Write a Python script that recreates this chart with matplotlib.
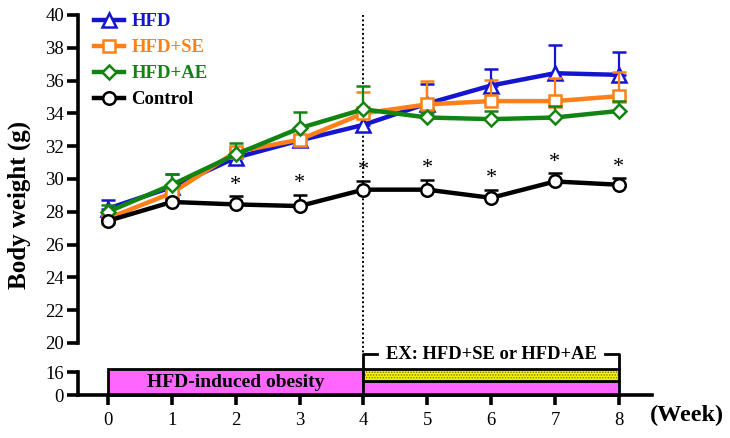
import matplotlib
matplotlib.use("Agg")
import matplotlib.pyplot as plt
from matplotlib.patches import Rectangle
from matplotlib.lines import Line2D
import numpy as np

plt.rcParams['font.family'] = ['Liberation Serif', 'DejaVu Serif']
plt.rcParams['hatch.linewidth'] = 0.6

weeks = [0, 1, 2, 3, 4, 5, 6, 7, 8]
hfd = [28.2, 29.5, 31.3, 32.35, 33.3, 34.6, 35.7, 36.45, 36.35]
hfd_err = [0.5, 0.8, 0.5, 0.3, 0.7, 1.2, 1.0, 1.7, 1.4]
hfd_se = [27.6, 29.15, 31.65, 32.4, 34.0, 34.55, 34.75, 34.75, 35.05]
hfd_se_err = [0.4, 0.4, 0.3, 0.3, 1.3, 1.4, 1.3, 1.4, 1.5]
hfd_ae = [28.0, 29.65, 31.5, 33.1, 34.25, 33.75, 33.65, 33.75, 34.15]
hfd_ae_err = [0.4, 0.65, 0.7, 1.0, 1.4, 0.3, 0.5, 0.7, 0.6]
control = [27.45, 28.6, 28.45, 28.35, 29.35, 29.35, 28.85, 29.85, 29.65]
control_err = [0.2, 0.2, 0.5, 0.7, 0.5, 0.6, 0.5, 0.5, 0.4]
star_weeks = [2, 3, 4, 5, 6, 7, 8]

series = [
    ("HFD", hfd, hfd_err, '#1515d0', '^'),
    ("HFD+SE", hfd_se, hfd_se_err, '#ff8018', 's'),
    ("HFD+AE", hfd_ae, hfd_ae_err, '#128412', 'D'),
    ("Control", control, control_err, '#000000', 'o'),
]

W, H = 730, 438
fig = plt.figure(figsize=(W / 100, H / 100), dpi=100)
xl = (-0.47, 8.52)
left = 78 / W
width = (652 - 78) / W

ax = fig.add_axes([left, (H - 343) / H, width, 328 / H])
axl = fig.add_axes([left, (H - 395) / H, width, 43.1 / H])

spine_w = 2.6
for a in (ax, axl):
    a.set_xlim(*xl)
    for s in ('top', 'right'):
        a.spines[s].set_visible(False)
    a.spines['left'].set_linewidth(spine_w)
    a.spines['bottom'].set_linewidth(spine_w)
    a.tick_params(width=spine_w, length=8, labelsize=13.5, direction='out')
    a.patch.set_alpha(0)

ax.spines['bottom'].set_visible(False)
ax.set_ylim(20, 40)
ax.set_yticks(np.arange(20, 41, 2))
ax.set_xticks([])
ax.tick_params(axis='y', pad=2)

axl.set_ylim(0, 30)
axl.spines['left'].set_bounds(0, 16)
axl.set_yticks([0, 16])
axl.set_xticks(weeks)
axl.tick_params(axis='x', length=7, pad=5)
axl.tick_params(axis='y', pad=2)

handles = []
for i, (name, vals, err, col, mk) in enumerate(series):
    ms = {'^': 9.5, 's': 9, 'D': 7, 'o': 9}[mk]
    ax.errorbar(weeks, vals, yerr=[np.zeros(len(err)), err], color=col,
                lw=3.2, elinewidth=1.6, capsize=5, capthick=2,
                marker=mk, markersize=ms, markerfacecolor='white',
                markeredgecolor=col, markeredgewidth=1.8,
                zorder=3 + i, clip_on=False)
    handles.append(Line2D([], [], color=col, lw=3.2, marker=mk, markersize=ms,
                          markerfacecolor='white', markeredgecolor=col,
                          markeredgewidth=1.8, label=name))

for w in star_weeks:
    top = control[w] + control_err[w]
    ax.annotate('*', (w, top), xytext=(0, 1), textcoords='offset points',
                ha='center', va='bottom', fontsize=16, zorder=10)

# dotted divider at week 4
ax.plot([4, 4], [40, 19.33], color='black', lw=1.4, ls=(0, (1, 1.3)),
        clip_on=False, zorder=2)

leg = ax.legend(handles=handles, loc='upper left', bbox_to_anchor=(0.028, 1.005),
                frameon=False, handlelength=1.6, handletextpad=0.4,
                labelspacing=0.47, borderaxespad=0.0, borderpad=0.0,
                prop={'weight': 'bold', 'size': 13.5})
for txt, (_, _, _, col, _) in zip(leg.get_texts(), series):
    txt.set_color(col)

# lower timeline
axl.add_patch(Rectangle((0, 0), 4, 18, facecolor='#ff66ff', edgecolor='black',
                        lw=2, zorder=2, clip_on=False))
axl.add_patch(Rectangle((4, 0), 4, 9.5, facecolor='#ff66ff', edgecolor='black',
                        lw=2, zorder=2, clip_on=False))
axl.add_patch(Rectangle((4, 9.5), 4, 8.5, facecolor='#f2f200', edgecolor='#6a6a00',
                        hatch='......', lw=0, zorder=2, clip_on=False))
axl.add_patch(Rectangle((4, 9.5), 4, 8.5, facecolor='none', edgecolor='black',
                        lw=2, zorder=3, clip_on=False))
axl.text(2, 8.5, 'HFD-induced obesity', ha='center', va='center',
         fontsize=14, fontweight='bold', zorder=4)
axl.plot([4, 4, 4.22], [18, 28.5, 28.5], color='black', lw=2, clip_on=False)
axl.plot([7.78, 8, 8], [28.5, 28.5, 18], color='black', lw=2, clip_on=False)
axl.text(6, 28.5, 'EX: HFD+SE or HFD+AE', ha='center', va='center',
         fontsize=13.3, fontweight='bold')

fig.text(19 / W, 1 - 205 / H, 'Body weight (g)', rotation=90, ha='center',
         va='center', fontsize=18, fontweight='bold')
fig.text(687 / W, 1 - 415 / H, '(Week)', ha='center', va='center',
         fontsize=17.5, fontweight='bold')

fig.savefig('out.png', dpi=100)
